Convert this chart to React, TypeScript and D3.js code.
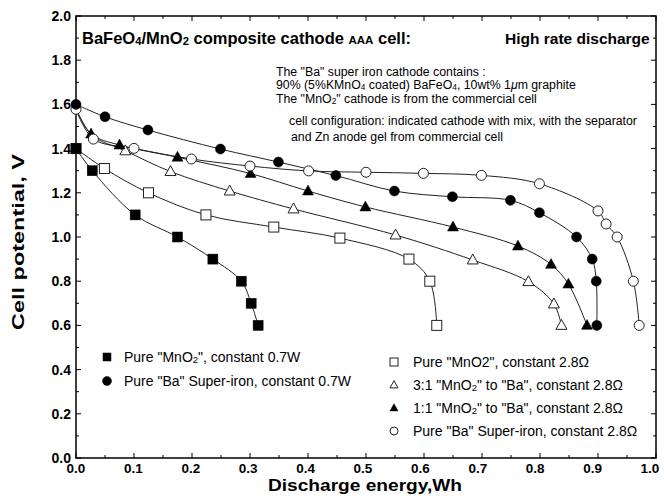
import React from "react";
import * as d3 from "d3";

// ---- data (Discharge energy Wh, Cell potential V) ----
const mno2_07W_x = [0, 0.028, 0.102, 0.175, 0.236, 0.285, 0.302, 0.314];
const mno2_07W_y = [1.4, 1.3, 1.1, 1.0, 0.9, 0.8, 0.7, 0.6];

const ba_07W_x = [0, 0.05, 0.124, 0.249, 0.349, 0.448, 0.549, 0.649, 0.749, 0.799, 0.863, 0.89, 0.897, 0.898];
const ba_07W_y = [1.6, 1.544, 1.484, 1.398, 1.339, 1.278, 1.208, 1.182, 1.166, 1.11, 1.0, 0.9, 0.8, 0.6];

const mno2_28_x = [0, 0.049, 0.125, 0.224, 0.341, 0.455, 0.574, 0.61, 0.622];
const mno2_28_y = [1.4, 1.31, 1.2, 1.1, 1.045, 0.995, 0.9, 0.8, 0.6];

const r31_28_x = [0, 0.028, 0.085, 0.163, 0.265, 0.375, 0.551, 0.684, 0.78, 0.824, 0.837];
const r31_28_y = [1.58, 1.46, 1.39, 1.296, 1.208, 1.127, 1.009, 0.896, 0.798, 0.697, 0.6];

const r11_28_x = [0, 0.026, 0.075, 0.175, 0.301, 0.4, 0.499, 0.65, 0.762, 0.819, 0.849, 0.881];
const r11_28_y = [1.58, 1.466, 1.416, 1.361, 1.287, 1.208, 1.136, 1.045, 0.959, 0.876, 0.787, 0.6];

const ba_28_x = [0, 0.03, 0.1, 0.199, 0.3, 0.401, 0.5, 0.599, 0.699, 0.799, 0.9, 0.914, 0.933, 0.961, 0.971];
const ba_28_y = [1.578, 1.443, 1.401, 1.353, 1.321, 1.299, 1.293, 1.288, 1.279, 1.241, 1.118, 1.059, 1.0, 0.8, 0.6];

const xTicks = [0, 0.1, 0.2, 0.3, 0.4, 0.5, 0.6, 0.7, 0.8, 0.9, 1.0];
const yTicks = [0, 0.2, 0.4, 0.6, 0.8, 1.0, 1.2, 1.4, 1.6, 1.8, 2.0];

type Marker = "sqF" | "sqO" | "ciF" | "ciO" | "trF" | "trO";

const seriesList = [
  { id: "mno2_28", xs: mno2_28_x, ys: mno2_28_y, marker: "sqO" as Marker, skipFirst: 0 },
  { id: "r31_28", xs: r31_28_x, ys: r31_28_y, marker: "trO" as Marker, skipFirst: 2 },
  { id: "r11_28", xs: r11_28_x, ys: r11_28_y, marker: "trF" as Marker, skipFirst: 1 },
  { id: "ba_28", xs: ba_28_x, ys: ba_28_y, marker: "ciO" as Marker, skipFirst: 0 },
  { id: "mno2_07W", xs: mno2_07W_x, ys: mno2_07W_y, marker: "sqF" as Marker, skipFirst: 0 },
  { id: "ba_07W", xs: ba_07W_x, ys: ba_07W_y, marker: "ciF" as Marker, skipFirst: 0 },
];

const W = 664, H = 496;
const left = 76, right = 656, top = 16, bottom = 458;
const FONT = "'Liberation Sans', Arial, Helvetica, sans-serif";

function MarkerShape({ kind, x, y, s }: { kind: Marker; x: number; y: number; s: number }) {
  const filled = kind.endsWith("F");
  const fill = filled ? "#000" : "#fff";
  const stroke = filled ? "#000" : "#222";
  const sw = filled ? 0.5 : 1;
  if (kind.startsWith("sq")) {
    return <rect x={x - s / 2} y={y - s / 2} width={s} height={s} fill={fill} stroke={stroke} strokeWidth={sw} />;
  }
  if (kind.startsWith("ci")) {
    return <circle cx={x} cy={y} r={s / 2} fill={fill} stroke={stroke} strokeWidth={sw} />;
  }
  const h = s * 0.9;
  const pts = `${x},${y - h * 0.6} ${x - s / 2},${y + h * 0.4} ${x + s / 2},${y + h * 0.4}`;
  return <polygon points={pts} fill={fill} stroke={stroke} strokeWidth={sw} />;
}

const Sub = ({ children }: { children: React.ReactNode }) => (
  <tspan fontSize="0.68em" dy="1">{children}</tspan>
);

export default function App() {
  const x = d3.scaleLinear().domain([0, 1]).range([left, right]);
  const xLab = d3.scaleLinear().domain([0, 1]).range([left, 650]);
  const y = d3.scaleLinear().domain([0, 2]).range([bottom, top]);
  const line = d3
    .line<[number, number]>()
    .x((d) => x(d[0]))
    .y((d) => y(d[1]))
    .curve(d3.curveCatmullRom.alpha(0.5));

  const xMinor = d3.range(0, 1.0001, 0.05);
  const yMinor = d3.range(0, 2.0001, 0.1);

  return (
    <svg width={W} height={H} style={{ position: "absolute", left: 0, top: 0, background: "#fff" }} fontFamily={FONT}>
      <rect x={0} y={0} width={W} height={H} fill="#fff" />
      {/* ticks */}
      {xMinor.map((v, i) => {
        const len = i % 2 === 0 ? 5 : 3;
        return (
          <g key={"xt" + i} stroke="#000" strokeWidth={1}>
            <line x1={x(v)} x2={x(v)} y1={bottom} y2={bottom - len} />
            <line x1={x(v)} x2={x(v)} y1={top} y2={top + len} />
          </g>
        );
      })}
      {yMinor.map((v, i) => {
        const len = i % 2 === 0 ? 5 : 3;
        return (
          <g key={"yt" + i} stroke="#000" strokeWidth={1}>
            <line x1={left} x2={left + len} y1={y(v)} y2={y(v)} />
            <line x1={right} x2={right - len} y1={y(v)} y2={y(v)} />
          </g>
        );
      })}
      <rect x={left} y={top} width={right - left} height={bottom - top} fill="none" stroke="#000" strokeWidth={1.5} />

      {/* tick labels */}
      {xTicks.map((v) => (
        <text key={"xl" + v} x={xLab(v)} y={bottom + 15} textAnchor="middle" fontSize={13.5} fontWeight="bold">
          {v.toFixed(1)}
        </text>
      ))}
      {yTicks.map((v) => (
        <text key={"yl" + v} x={left - 5} y={y(v) + 5} textAnchor="end" fontSize={14} fontWeight="bold">
          {v.toFixed(1)}
        </text>
      ))}

      {/* axis titles */}
      <text x={365} y={491} textAnchor="middle" fontSize={16} fontWeight="bold" textLength={194} lengthAdjust="spacingAndGlyphs">
        Discharge energy,Wh
      </text>
      <text transform={`translate(24,242) rotate(-90)`} textAnchor="middle" fontSize={17} fontWeight="bold" textLength={176} lengthAdjust="spacingAndGlyphs">
        Cell potential, V
      </text>

      {/* series lines */}
      {seriesList.map((s) => (
        <path
          key={s.id}
          d={line(s.xs.map((v, i) => [v, s.ys[i]] as [number, number])) || ""}
          fill="none"
          stroke="#222"
          strokeWidth={1}
        />
      ))}
      {seriesList.map((s) =>
        s.xs.map((v, i) =>
          i < s.skipFirst ? null : (
            <MarkerShape key={s.id + i} kind={s.marker} x={x(v)} y={y(s.ys[i])} s={s.marker.startsWith("tr") ? 11 : 10} />
          )
        )
      )}

      {/* title */}
      <text x={82} y={44} fontSize={16.5} fontWeight="bold">
        BaFeO<Sub>4</Sub><tspan dy="-1">/MnO</tspan><Sub>2</Sub><tspan dy="-1"> composite cathode </tspan>
        <tspan fontSize={11.5}>AAA</tspan><tspan> cell:</tspan>
      </text>
      <text x={505} y={44} fontSize={15.5} fontWeight="bold">
        High rate discharge
      </text>

      {/* annotations */}
      <g fontSize={12.3}>
        <text x={276} y={76}>The "Ba" super iron cathode contains :</text>
        <text x={276} y={89}>
          90% (5%KMnO<Sub>4</Sub><tspan dy="-1"> coated) BaFeO</tspan><Sub>4</Sub><tspan dy="-1">, 10wt% 1</tspan>
          <tspan fontStyle="italic">μ</tspan>m graphite
        </text>
        <text x={276} y={103}>
          The "MnO<Sub>2</Sub><tspan dy="-1">" cathode is from the commercial cell</tspan>
        </text>
        <text x={289} y={125}>cell configuration: indicated cathode with mix, with the separator</text>
        <text x={291} y={141}>and Zn anode gel from commercial  cell</text>
      </g>

      {/* legends */}
      <g fontSize={14}>
        <MarkerShape kind="sqF" x={107} y={357} s={8} />
        <text x={124} y={362}>
          Pure "MnO<Sub>2</Sub><tspan dy="-1">", constant 0.7W</tspan>
        </text>
        <MarkerShape kind="ciF" x={107} y={381} s={9} />
        <text x={124} y={386}>Pure "Ba" Super-iron, constant 0.7W</text>

        <MarkerShape kind="sqO" x={394} y={362} s={8} />
        <text x={413} y={367}>Pure "MnO2", constant 2.8Ω</text>
        <MarkerShape kind="trO" x={394} y={385} s={8} />
        <text x={413} y={390}>
          3:1 "MnO<Sub>2</Sub><tspan dy="-1">" to "Ba", constant 2.8Ω</tspan>
        </text>
        <MarkerShape kind="trF" x={394} y={408} s={8} />
        <text x={413} y={413}>
          1:1 "MnO<Sub>2</Sub><tspan dy="-1">" to "Ba", constant 2.8Ω</tspan>
        </text>
        <MarkerShape kind="ciO" x={394} y={431} s={8} />
        <text x={413} y={436}>Pure "Ba" Super-iron, constant 2.8Ω</text>
      </g>
    </svg>
  );
}
